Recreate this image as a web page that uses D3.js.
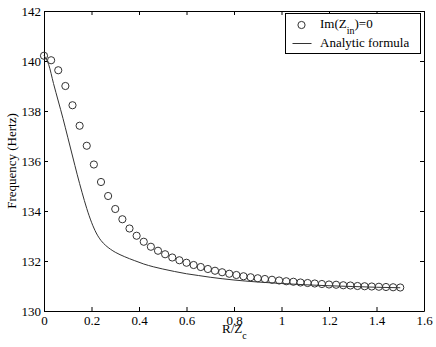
<!DOCTYPE html>
<html><head><meta charset="utf-8">
<script src="https://cdn.jsdelivr.net/npm/d3@7"></script>
<style>
body{margin:0;background:#fff;}
svg text{font-family:"Liberation Serif","Times New Roman",serif;}
</style></head>
<body><svg id="c" width="436" height="347"></svg>
<script>
const circleX = [0,0.03,0.06,0.09,0.12,0.15,0.18,0.21,0.24,0.27,0.30,0.33,0.36,0.39,0.42,0.45,0.48,0.51,0.54,0.57,0.60,0.63,0.66,0.69,0.72,0.75,0.78,0.81,0.84,0.87,0.90,0.93,0.96,0.99,1.02,1.05,1.08,1.11,1.14,1.17,1.20,1.23,1.26,1.29,1.32,1.35,1.38,1.41,1.44,1.47,1.50];
const circleY = [140.21,140.03,139.63,139.00,138.23,137.41,136.61,135.86,135.16,134.60,134.08,133.67,133.30,133.01,132.77,132.57,132.41,132.27,132.14,132.03,131.93,131.84,131.76,131.68,131.61,131.55,131.49,131.44,131.39,131.35,131.31,131.28,131.25,131.22,131.19,131.17,131.14,131.12,131.10,131.08,131.06,131.05,131.03,131.02,131.00,130.99,130.98,130.97,130.96,130.95,130.94];
const lineX = [0,0.02,0.04,0.06,0.08,0.10,0.12,0.14,0.16,0.18,0.20,0.22,0.24,0.26,0.28,0.30,0.34,0.38,0.42,0.46,0.50,0.55,0.60,0.65,0.70,0.80,0.90,1.00,1.10,1.20,1.30,1.40,1.50];
const lineY = [140.22,139.85,139.10,138.40,137.70,136.95,136.20,135.45,134.75,134.10,133.55,133.12,132.82,132.62,132.47,132.35,132.17,132.02,131.88,131.77,131.68,131.58,131.49,131.42,131.35,131.24,131.16,131.10,131.05,131.01,130.98,130.95,130.93];
const xTicks = [0,0.2,0.4,0.6,0.8,1,1.2,1.4,1.6];
const xTickLabels = ["0","0.2","0.4","0.6","0.8","1","1.2","1.4","1.6"];
const yTicks = [130,132,134,136,138,140,142];
const yTickLabels = ["130","132","134","136","138","140","142"];
const legendLabels = ["Im(Z","in",")=0","Analytic formula"];

const svg = d3.select("#c");
const L=44,R=424,T=11,B=311;
const x = d3.scaleLinear().domain([0,1.6]).range([L,R]);
const y = d3.scaleLinear().domain([130,142]).range([B,T]);

function styleAxis(g){
  g.select(".domain").attr("stroke","#000").attr("stroke-width",1);
  g.selectAll(".tick line").attr("stroke","#000");
  g.selectAll("text").attr("fill","#000").attr("font-size","13px").attr("font-family","Liberation Serif, serif");
}
svg.append("g").attr("transform",`translate(0,${B})`)
  .call(d3.axisBottom(x).tickValues(xTicks).tickFormat((d,i)=>xTickLabels[i]).tickSizeInner(-4).tickSizeOuter(0).tickPadding(5))
  .call(styleAxis);
svg.append("g").attr("transform",`translate(0,${T})`)
  .call(d3.axisTop(x).tickValues(xTicks).tickFormat("").tickSizeInner(-4).tickSizeOuter(0))
  .call(styleAxis);
svg.append("g").attr("transform",`translate(${L},0)`)
  .call(d3.axisLeft(y).tickValues(yTicks).tickFormat((d,i)=>yTickLabels[i]).tickSizeInner(-4).tickSizeOuter(0).tickPadding(3))
  .call(styleAxis);
svg.append("g").attr("transform",`translate(${R},0)`)
  .call(d3.axisRight(y).tickValues(yTicks).tickFormat("").tickSizeInner(-4).tickSizeOuter(0))
  .call(styleAxis);

// analytic curve
const lineData = lineX.map((d,i)=>[d,lineY[i]]);
svg.append("path").datum(lineData)
  .attr("fill","none").attr("stroke","#333").attr("stroke-width",1)
  .attr("d", d3.line().x(d=>x(d[0])).y(d=>y(d[1])).curve(d3.curveMonotoneX));

// circles
svg.append("g").selectAll("circle").data(circleX.map((d,i)=>[d,circleY[i]])).join("circle")
  .attr("cx",d=>x(d[0])).attr("cy",d=>y(d[1])).attr("r",3.6)
  .attr("fill","none").attr("stroke","#333").attr("stroke-width",1);

// axis titles
const xt = svg.append("text").attr("x",222).attr("y",333).attr("font-size","13px").attr("fill","#000");
xt.append("tspan").text("R/Z");
xt.append("tspan").attr("dy",6).attr("font-size","10px").text("c");
svg.append("text").attr("transform","translate(16,161) rotate(-90)")
  .attr("text-anchor","middle").attr("font-size","13px").attr("fill","#000").text("Frequency (Hertz)");

// legend
const lg = svg.append("g");
lg.append("rect").attr("x",285.5).attr("y",13.5).attr("width",135).attr("height",40)
  .attr("fill","#fff").attr("stroke","#000").attr("stroke-width",1);
lg.append("circle").attr("cx",301.5).attr("cy",25).attr("r",3.6).attr("fill","none").attr("stroke","#333");
const t1 = lg.append("text").attr("x",320).attr("y",27.5).attr("font-size","13px").attr("fill","#000");
t1.append("tspan").text(legendLabels[0]);
t1.append("tspan").attr("dy",6).attr("font-size","10px").text(legendLabels[1]);
t1.append("tspan").attr("dy",-6).text(legendLabels[2]);
lg.append("line").attr("x1",292.5).attr("x2",311.5).attr("y1",43.5).attr("y2",43.5).attr("stroke","#333");
lg.append("text").attr("x",320).attr("y",46.5).attr("font-size","13px").attr("fill","#000").text(legendLabels[3]);
</script></body></html>
